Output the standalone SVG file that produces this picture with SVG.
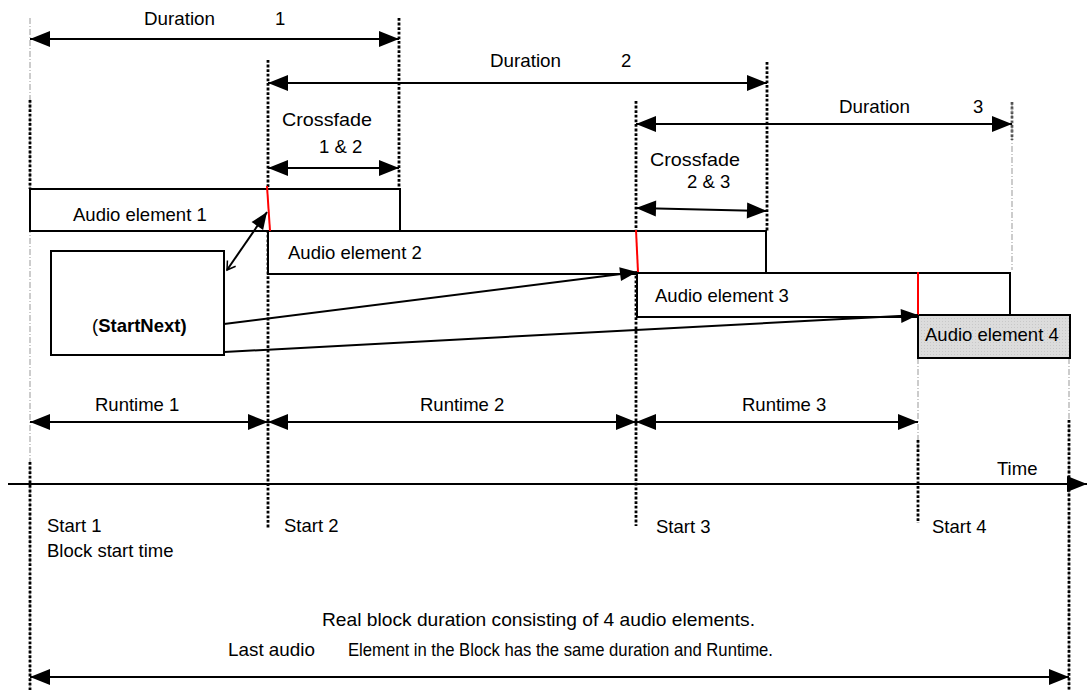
<svg xmlns="http://www.w3.org/2000/svg" width="1087" height="693" viewBox="0 0 1087 693">
<style>
text{font-family:"Liberation Sans",Arial,sans-serif;font-size:18.5px;fill:#000}
.box{fill:#fff;stroke:#000;stroke-width:2}
.dot{stroke:#000;stroke-width:2.8;stroke-dasharray:2.8 1.8;fill:none}
.gray{stroke:#999;stroke-width:1;stroke-dasharray:6 2 1 2;fill:none}
.arr{stroke:#000;stroke-width:2;fill:none}
.red{stroke:#f00;stroke-width:2}
</style>
<defs>
<marker id="ah" markerWidth="20" markerHeight="16" refX="20" refY="8" orient="auto-start-reverse" markerUnits="userSpaceOnUse" overflow="visible"><path d="M0,0 L20,8 L0,16 z" fill="#000"/></marker>
<marker id="ah2" markerWidth="17" markerHeight="14" refX="17" refY="7" orient="auto" markerUnits="userSpaceOnUse" overflow="visible"><path d="M0,0 L17,7 L0,14 z" fill="#000"/></marker>
<marker id="open" markerWidth="10" markerHeight="10" refX="0" refY="5" orient="auto" markerUnits="userSpaceOnUse" overflow="visible"><path d="M8,0 L0,5 L8,10" fill="none" stroke="#000" stroke-width="1.5"/></marker>
<pattern id="dots" width="3" height="3" patternUnits="userSpaceOnUse"><rect width="3" height="3" fill="#dcdcdc"/><rect width="1" height="1" fill="#c8c8c8"/></pattern>
</defs>

<g id="guides">
<line class="gray" x1="30" y1="18" x2="30" y2="690"/>
<line class="dot" x1="30" y1="100" x2="30" y2="189"/>
<line class="dot" x1="30" y1="462" x2="30" y2="690"/>
<line class="dot" x1="268" y1="60" x2="268" y2="528"/>
<line class="dot" x1="399" y1="18" x2="399" y2="189"/>
<line class="dot" x1="636" y1="101" x2="636" y2="526"/>
<line class="dot" x1="767" y1="62" x2="767" y2="231"/>
<line class="gray" x1="1012" y1="102" x2="1012" y2="270"/>
<line class="dot" x1="1012" y1="102" x2="1012" y2="140" stroke-opacity="0.6"/>
<line class="gray" x1="918" y1="358" x2="918" y2="460"/>
<line class="dot" x1="918" y1="440" x2="918" y2="523"/>
<line class="gray" x1="1069" y1="358" x2="1069" y2="690"/>
<line class="dot" x1="1069" y1="420" x2="1069" y2="690"/>
</g>

<g id="labels">
<text x="144" y="25" textLength="71" lengthAdjust="spacingAndGlyphs">Duration</text>
<text x="275" y="25">1</text>
<text x="490" y="67" textLength="71" lengthAdjust="spacingAndGlyphs">Duration</text>
<text x="621" y="67">2</text>
<text x="839" y="113" textLength="71" lengthAdjust="spacingAndGlyphs">Duration</text>
<text x="973" y="113">3</text>
<text x="282" y="126" textLength="90" lengthAdjust="spacingAndGlyphs">Crossfade</text>
<text x="319" y="153">1 &amp; 2</text>
<text x="650" y="166" textLength="90" lengthAdjust="spacingAndGlyphs">Crossfade</text>
<text x="687" y="188">2 &amp; 3</text>
<text x="95" y="411">Runtime 1</text>
<text x="420" y="411">Runtime 2</text>
<text x="742" y="411">Runtime 3</text>
<text x="997" y="475">Time</text>
<text x="47" y="532">Start 1</text>
<text x="47" y="557">Block start time</text>
<text x="284" y="532">Start 2</text>
<text x="656" y="533">Start 3</text>
<text x="932" y="533">Start 4</text>
<text x="322" y="626" textLength="433" lengthAdjust="spacingAndGlyphs">Real block duration consisting of 4 audio elements.</text>
<text x="228" y="656" textLength="87" lengthAdjust="spacingAndGlyphs">Last audio</text>
<text x="348" y="656" textLength="425" lengthAdjust="spacingAndGlyphs">Element in the Block has the same duration and Runtime.</text>
</g>

<g id="audio1">
<rect class="box" x="30" y="189" width="370" height="42"/>
<text x="73" y="221">Audio element 1</text>
</g>
<g id="audio2">
<rect class="box" x="268" y="231" width="498" height="43"/>
<text x="288" y="259">Audio element 2</text>
</g>
<g id="audio3">
<rect class="box" x="637" y="273" width="373" height="44"/>
<text x="655" y="302">Audio element 3</text>
</g>
<g id="audio4">
<rect x="918" y="315" width="152" height="43" fill="url(#dots)" stroke="#000" stroke-width="2"/>
<text x="925" y="341">Audio element 4</text>
</g>
<g id="startnext">
<rect class="box" x="51" y="251" width="173" height="104"/>
<text x="92" y="332">(<tspan font-weight="bold">StartNext)</tspan></text>
</g>
<g id="crossfade-marks">
<line class="red" x1="267" y1="186" x2="270" y2="231"/>
<line class="red" x1="636" y1="230" x2="638" y2="272"/>
<line class="red" x1="918" y1="272" x2="918" y2="315"/>
</g>

<g id="connectors">
<line class="arr" x1="30" y1="39" x2="399" y2="39" marker-start="url(#ah)" marker-end="url(#ah)"/>
<line class="arr" x1="268" y1="83" x2="767" y2="83" marker-start="url(#ah)" marker-end="url(#ah)"/>
<line class="arr" x1="636" y1="124" x2="1012" y2="124" marker-start="url(#ah)" marker-end="url(#ah)"/>
<line class="arr" x1="268" y1="168" x2="399" y2="168" marker-start="url(#ah)" marker-end="url(#ah)"/>
<line class="arr" x1="636" y1="208" x2="767" y2="211" marker-start="url(#ah)" marker-end="url(#ah)"/>
<line class="arr" x1="30" y1="422" x2="268" y2="422" marker-start="url(#ah)" marker-end="url(#ah)"/>
<line class="arr" x1="268" y1="422" x2="636" y2="422" marker-start="url(#ah)" marker-end="url(#ah)"/>
<line class="arr" x1="636" y1="422" x2="918" y2="422" marker-start="url(#ah)" marker-end="url(#ah)"/>
<line class="arr" x1="8" y1="484" x2="1087" y2="484" marker-end="url(#ah)"/>
<line class="arr" x1="30" y1="677" x2="1069" y2="677" marker-start="url(#ah)" marker-end="url(#ah)"/>
<line class="arr" x1="227" y1="270" x2="267" y2="212" marker-start="url(#open)" marker-end="url(#ah2)"/>
<line class="arr" x1="224" y1="324" x2="637" y2="272" marker-end="url(#ah2)"/>
<line class="arr" x1="224" y1="352" x2="918" y2="315" marker-end="url(#ah2)"/>
</g>
</svg>
